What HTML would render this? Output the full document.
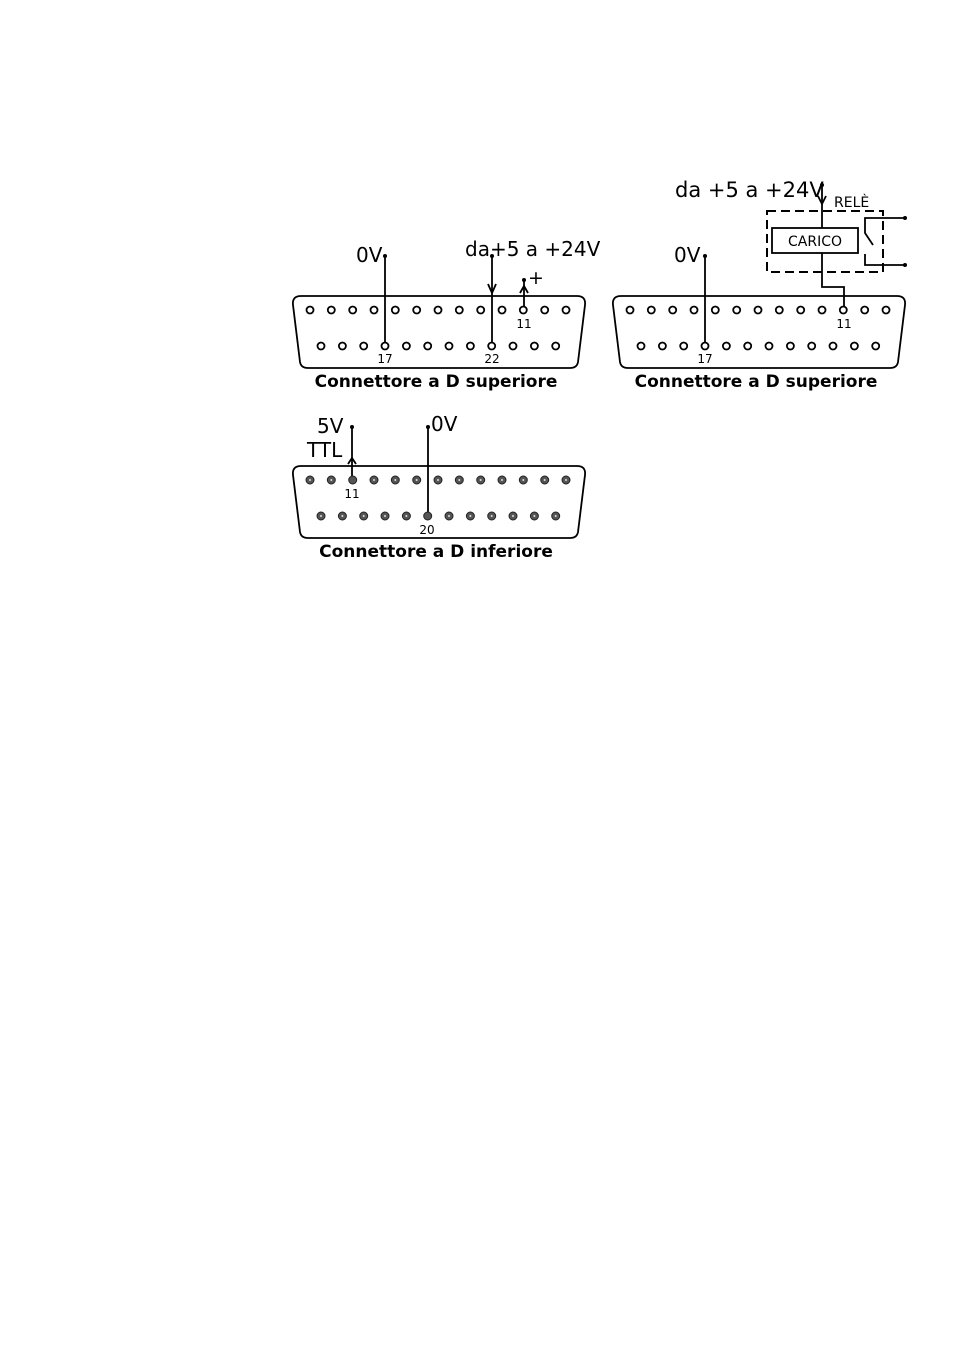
<!DOCTYPE html>
<html><head><style>body{margin:0;background:#fff}</style></head><body>
<svg width="954" height="1350" xmlns="http://www.w3.org/2000/svg" font-family="'DejaVu Sans','Liberation Sans',sans-serif">
<defs>
<g id="conn">
<path d="M301,296 H577 Q586,296 585,305 L578,362 Q577,368 570,368 H308 Q301,368 300,362 L293,305 Q292,296 301,296 Z" fill="#fff" stroke="#000" stroke-width="1.8"/>
</g>
</defs>
<g stroke="#000" stroke-width="1.8" fill="none">
<use href="#conn"/>
<g id="pins1">
<circle cx="310" cy="310" r="3.5"/><circle cx="331.3" cy="310" r="3.5"/><circle cx="352.7" cy="310" r="3.5"/><circle cx="374" cy="310" r="3.5"/><circle cx="395.3" cy="310" r="3.5"/><circle cx="416.7" cy="310" r="3.5"/><circle cx="438" cy="310" r="3.5"/><circle cx="459.3" cy="310" r="3.5"/><circle cx="480.7" cy="310" r="3.5"/><circle cx="502" cy="310" r="3.5"/><circle cx="523.3" cy="310" r="3.5"/><circle cx="544.7" cy="310" r="3.5"/><circle cx="566" cy="310" r="3.5"/>
<circle cx="321" cy="346" r="3.5"/><circle cx="342.4" cy="346" r="3.5"/><circle cx="363.7" cy="346" r="3.5"/><circle cx="385" cy="346" r="3.5"/><circle cx="406.4" cy="346" r="3.5"/><circle cx="427.7" cy="346" r="3.5"/><circle cx="449" cy="346" r="3.5"/><circle cx="470.4" cy="346" r="3.5"/><circle cx="491.7" cy="346" r="3.5"/><circle cx="513" cy="346" r="3.5"/><circle cx="534.4" cy="346" r="3.5"/><circle cx="555.7" cy="346" r="3.5"/>
</g>
<line x1="385" y1="256" x2="385" y2="342"/>
<line x1="492" y1="256" x2="492" y2="342"/>
<polyline points="488,284 492,293 496,284"/>
<line x1="524" y1="280" x2="524" y2="306"/>
<polyline points="520,293 524,286 528,293"/>
<g transform="translate(320,0)"><use href="#conn"/><use href="#pins1"/></g>
<line x1="705" y1="256" x2="705" y2="342"/>
<rect x="767" y="211" width="116" height="61" stroke-dasharray="9,5" stroke-width="2"/>
<rect x="772" y="228" width="86" height="25" fill="#fff"/>
<polyline points="822,185 822,228"/>
<polyline points="818,196 822,204 826,196"/>
<polyline points="822,253 822,287 844,287 844,306"/>
<polyline points="905,218 865,218 865,233 873,245"/>
<polyline points="905,265 865,265 865,254"/>
<g transform="translate(0,170)"><use href="#conn"/></g>
<line x1="352" y1="427" x2="352" y2="477"/>
<polyline points="348,464 352,458 356,464"/>
<line x1="428" y1="427" x2="428" y2="513"/>
</g>
<g fill="#000">
<circle cx="385" cy="256" r="2"/><circle cx="492" cy="256" r="2"/><circle cx="524" cy="280" r="2"/>
<circle cx="705" cy="256" r="2"/><circle cx="822" cy="185" r="2"/><circle cx="905" cy="218" r="2"/><circle cx="905" cy="265" r="2"/>
<circle cx="352" cy="427" r="2"/><circle cx="428" cy="427" r="2"/>
</g>
<g id="p3" fill="#555" stroke="#222" stroke-width="1">
<circle cx="310" cy="480" r="4"/><circle cx="331.3" cy="480" r="4"/><circle cx="352.7" cy="480" r="4"/><circle cx="374" cy="480" r="4"/><circle cx="395.3" cy="480" r="4"/><circle cx="416.7" cy="480" r="4"/><circle cx="438" cy="480" r="4"/><circle cx="459.3" cy="480" r="4"/><circle cx="480.7" cy="480" r="4"/><circle cx="502" cy="480" r="4"/><circle cx="523.3" cy="480" r="4"/><circle cx="544.7" cy="480" r="4"/><circle cx="566" cy="480" r="4"/>
<circle cx="321" cy="516" r="4"/><circle cx="342.4" cy="516" r="4"/><circle cx="363.7" cy="516" r="4"/><circle cx="385" cy="516" r="4"/><circle cx="406.4" cy="516" r="4"/><circle cx="427.7" cy="516" r="4"/><circle cx="449" cy="516" r="4"/><circle cx="470.4" cy="516" r="4"/><circle cx="491.7" cy="516" r="4"/><circle cx="513" cy="516" r="4"/><circle cx="534.4" cy="516" r="4"/><circle cx="555.7" cy="516" r="4"/>
</g>
<g fill="#ddd">
<circle cx="310" cy="480" r="1"/><circle cx="331.3" cy="480" r="1"/><circle cx="374" cy="480" r="1"/><circle cx="395.3" cy="480" r="1"/><circle cx="416.7" cy="480" r="1"/><circle cx="438" cy="480" r="1"/><circle cx="459.3" cy="480" r="1"/><circle cx="480.7" cy="480" r="1"/><circle cx="502" cy="480" r="1"/><circle cx="523.3" cy="480" r="1"/><circle cx="544.7" cy="480" r="1"/><circle cx="566" cy="480" r="1"/>
<circle cx="321" cy="516" r="1"/><circle cx="342.4" cy="516" r="1"/><circle cx="363.7" cy="516" r="1"/><circle cx="385" cy="516" r="1"/><circle cx="406.4" cy="516" r="1"/><circle cx="449" cy="516" r="1"/><circle cx="470.4" cy="516" r="1"/><circle cx="491.7" cy="516" r="1"/><circle cx="513" cy="516" r="1"/><circle cx="534.4" cy="516" r="1"/><circle cx="555.7" cy="516" r="1"/>
</g>
<g fill="#000">
<text x="356" y="262" font-size="20">0V</text>
<text x="465" y="256" font-size="20">da+5 a +24V</text>
<text x="528" y="284" font-size="19">+</text>
<text x="385" y="363" font-size="12" text-anchor="middle">17</text>
<text x="492" y="363" font-size="12" text-anchor="middle">22</text>
<text x="524" y="328" font-size="12" text-anchor="middle">11</text>
<text x="436" y="387" font-size="17" font-weight="bold" text-anchor="middle">Connettore a D superiore</text>
<text x="674" y="262" font-size="20">0V</text>
<text x="675" y="197" font-size="21">da +5 a +24V</text>
<text x="834" y="207" font-size="14">RELÈ</text>
<text x="815" y="246" font-size="14" text-anchor="middle">CARICO</text>
<text x="705" y="363" font-size="12" text-anchor="middle">17</text>
<text x="844" y="328" font-size="12" text-anchor="middle">11</text>
<text x="756" y="387" font-size="17" font-weight="bold" text-anchor="middle">Connettore a D superiore</text>
<text x="317" y="433" font-size="20">5V</text>
<text x="307" y="457" font-size="20">TTL</text>
<text x="431" y="431" font-size="20">0V</text>
<text x="352" y="498" font-size="12" text-anchor="middle">11</text>
<text x="427" y="534" font-size="12" text-anchor="middle">20</text>
<text x="436" y="557" font-size="17" font-weight="bold" text-anchor="middle">Connettore a D inferiore</text>
</g>
</svg>
</body></html>
